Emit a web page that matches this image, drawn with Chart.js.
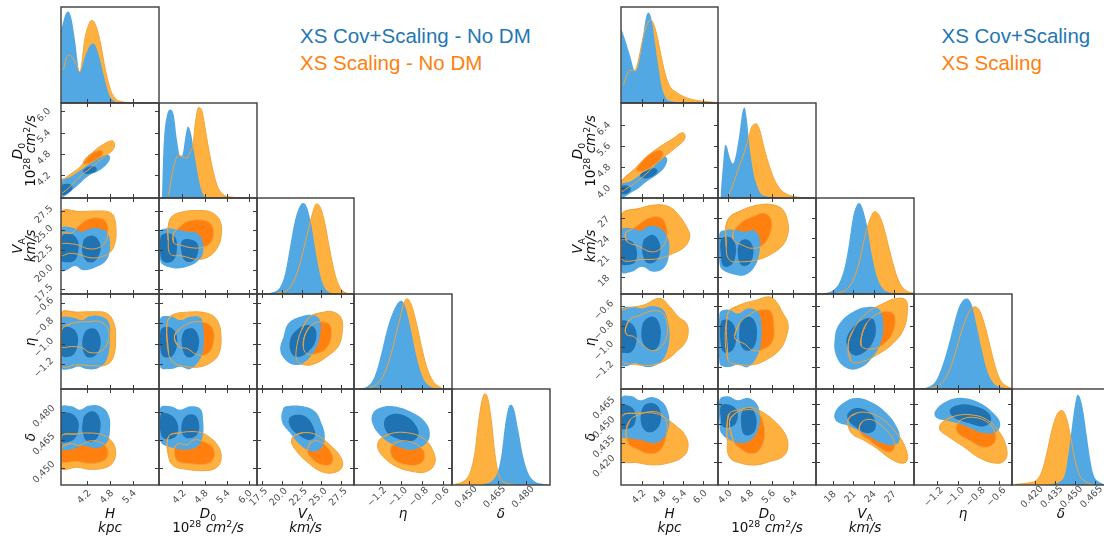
<!DOCTYPE html>
<html>
<head>
<meta charset="utf-8">
<script src="https://cdn.jsdelivr.net/npm/chart.js"></script>
<style>
  body { margin: 0; width: 1104px; height: 536px; overflow: hidden; background: #fff; position: relative; }
  canvas { position: absolute; }
  .lab { position: absolute; font: 13.5px "DejaVu Sans", sans-serif; color: #111; white-space: nowrap; text-align: center; line-height: 14px; }
  .lab sub, .lab sup { font-size: 70%; line-height: 0; position: relative; vertical-align: baseline; font-style: normal; }
  .lab sup { top: -0.5em; }
  .lab sub { bottom: -0.3em; }
  .legend { position: absolute; font: 20.5px "Liberation Sans", Arial, sans-serif; line-height: 27px; white-space: nowrap; }
</style>
</head>
<body>
<script>
// ---------- left triangle: axis limits and ticks ----------
const L_H_lim = [3.5, 6.1],      L_H_ticks = [4.2, 4.8, 5.4];
const L_D0_lim = [3.56, 6.23],   L_D0_ticks = [4.2, 4.8, 5.4, 6.0];
const L_VA_lim = [16.9, 29.1],   L_VA_ticks = [17.5, 20.0, 22.5, 25.0, 27.5];
const L_eta_lim = [-1.45, -0.51], L_eta_ticks = [-1.2, -1.0, -0.8, -0.6];
const L_delta_lim = [0.441, 0.4925], L_delta_ticks = [0.450, 0.465, 0.480];

// ---------- right triangle: axis limits and ticks ----------
const R_H_lim = [3.58, 6.43],    R_H_ticks = [4.2, 4.8, 5.4, 6.0];
const R_D0_lim = [3.62, 7.23],   R_D0_ticks = [4.0, 4.8, 5.6, 6.4];
const R_VA_lim = [15.4, 30.05],  R_VA_ticks = [18, 21, 24, 27];
const R_eta_lim = [-1.42, -0.48], R_eta_ticks = [-1.2, -1.0, -0.8, -0.6];
const R_delta_lim = [0.4025, 0.4767], R_delta_ticks = [0.420, 0.435, 0.450, 0.465];

// ---------- 1D marginals (x, normalised density) ----------
const L_H_blue = [[3.505,0.80],[3.61,0.96],[3.69,1.0],[3.78,0.92],[3.87,0.69],[4.0,0.34],[4.14,0.51],[4.27,0.63],[4.36,0.65],[4.49,0.54],[4.63,0.31],[4.76,0.11],[4.89,0.025],[5.07,0.004],[5.42,0]];
const L_H_orange = [[3.56,0.36],[3.69,0.525],[3.78,0.51],[3.91,0.42],[4.0,0.34],[4.14,0.72],[4.23,0.85],[4.31,0.905],[4.40,0.87],[4.53,0.69],[4.66,0.40],[4.80,0.16],[4.93,0.054],[5.07,0.018],[5.42,0.004],[6.04,0]];
const L_D0_blue = [[3.64,0],[3.68,0.53],[3.78,0.92],[3.87,0.976],[3.96,0.92],[4.05,0.64],[4.14,0.456],[4.21,0.49],[4.28,0.68],[4.35,0.79],[4.43,0.716],[4.55,0.42],[4.69,0.12],[4.82,0.01],[5.05,0]];
const L_D0_orange = [[3.82,0.03],[3.96,0.345],[4.09,0.475],[4.21,0.456],[4.32,0.44],[4.41,0.51],[4.49,0.60],[4.55,0.83],[4.64,1.0],[4.73,0.96],[4.87,0.64],[5.0,0.36],[5.14,0.14],[5.28,0.048],[5.51,0.011],[6.05,0]];
const L_VA_blue = [[17.74,0.004],[18.98,0.022],[19.82,0.077],[20.44,0.224],[21.06,0.517],[21.69,0.81],[22.31,0.964],[22.72,0.994],[23.22,0.94],[23.77,0.737],[24.39,0.407],[25.02,0.15],[25.64,0.04],[26.47,0.004]];
const L_VA_orange = [[19.4,0.011],[20.65,0.04],[21.48,0.13],[22.31,0.334],[23.14,0.627],[23.77,0.847],[24.39,0.986],[24.89,0.94],[25.43,0.774],[26.05,0.48],[26.68,0.224],[27.3,0.077],[28.13,0.011],[28.96,0]];
const L_eta_blue = [[-1.396,0.004],[-1.332,0.022],[-1.268,0.10],[-1.22,0.25],[-1.172,0.47],[-1.124,0.69],[-1.076,0.85],[-1.028,0.953],[-0.995,0.975],[-0.963,0.927],[-0.932,0.80],[-0.884,0.54],[-0.836,0.286],[-0.787,0.12],[-0.723,0.03],[-0.627,0.004]];
const L_eta_orange = [[-1.30,0.011],[-1.22,0.066],[-1.156,0.176],[-1.092,0.396],[-1.044,0.615],[-1.005,0.80],[-0.973,0.945],[-0.941,0.997],[-0.899,0.927],[-0.851,0.725],[-0.803,0.47],[-0.755,0.25],[-0.691,0.084],[-0.61,0.011]];
const L_delta_blue = [[0.4574,0.011],[0.4626,0.055],[0.4653,0.165],[0.4671,0.348],[0.4688,0.64],[0.4706,0.842],[0.472,0.878],[0.4737,0.823],[0.4758,0.604],[0.4784,0.311],[0.4811,0.128],[0.4846,0.037],[0.489,0.011],[0.4925,0.004]];
const L_delta_orange = [[0.4425,0.007],[0.4468,0.037],[0.4504,0.128],[0.453,0.348],[0.4547,0.64],[0.4565,0.896],[0.4583,0.999],[0.46,0.93],[0.4618,0.677],[0.4635,0.348],[0.4653,0.128],[0.4679,0.037],[0.4732,0.007]];

const R_H_blue = [[3.585,0.815],[3.705,0.69],[3.851,0.51],[3.997,0.344],[4.143,0.51],[4.24,0.76],[4.318,0.94],[4.386,0.99],[4.483,0.905],[4.58,0.65],[4.677,0.40],[4.774,0.18],[4.90,0.054],[5.066,0.018],[5.309,0.007],[5.892,0]];
const R_H_orange = [[3.657,0.20],[3.754,0.31],[3.851,0.355],[3.997,0.362],[4.094,0.47],[4.19,0.65],[4.288,0.80],[4.386,0.887],[4.454,0.91],[4.551,0.85],[4.648,0.72],[4.745,0.54],[4.872,0.326],[5.017,0.18],[5.212,0.116],[5.406,0.072],[5.698,0.036],[5.989,0.018],[6.33,0.007]];
const R_D0_blue = [[3.712,0.011],[3.798,0.345],[3.885,0.586],[3.946,0.568],[4.044,0.456],[4.167,0.382],[4.29,0.493],[4.413,0.716],[4.512,0.939],[4.598,1.0],[4.684,0.864],[4.782,0.568],[4.905,0.308],[5.028,0.16],[5.151,0.067],[5.397,0.019],[5.89,0.004]];
const R_D0_orange = [[3.983,0.011],[4.167,0.141],[4.352,0.308],[4.536,0.456],[4.721,0.642],[4.844,0.772],[4.93,0.81],[5.028,0.82],[5.151,0.753],[5.336,0.53],[5.52,0.345],[5.705,0.197],[5.951,0.085],[6.258,0.03],[6.627,0.007],[7.119,0]];
const R_VA_blue = [[16.45,0.004],[17.95,0.04],[18.95,0.132],[19.7,0.297],[20.35,0.554],[20.95,0.847],[21.45,0.964],[21.85,0.994],[22.35,0.939],[22.95,0.774],[23.7,0.444],[24.44,0.205],[25.19,0.077],[26.19,0.022],[27.44,0.004]];
const R_VA_orange = [[18.7,0.011],[19.95,0.048],[20.95,0.15],[21.95,0.37],[22.7,0.627],[23.44,0.81],[24.19,0.902],[24.94,0.847],[25.69,0.682],[26.44,0.462],[27.19,0.26],[27.94,0.114],[28.94,0.033],[29.94,0.011]];
const R_eta_blue = [[-1.363,0.004],[-1.267,0.03],[-1.203,0.103],[-1.139,0.286],[-1.075,0.543],[-1.027,0.764],[-0.979,0.93],[-0.915,1.0],[-0.866,0.93],[-0.818,0.69],[-0.77,0.433],[-0.722,0.213],[-0.658,0.066],[-0.578,0.018],[-0.498,0.004]];
const R_eta_orange = [[-1.267,0.007],[-1.171,0.048],[-1.107,0.14],[-1.043,0.323],[-0.979,0.58],[-0.915,0.80],[-0.866,0.892],[-0.834,0.91],[-0.786,0.855],[-0.738,0.69],[-0.69,0.47],[-0.642,0.25],[-0.594,0.103],[-0.53,0.03],[-0.482,0.007]];
const R_delta_blue = [[0.4314,0.007],[0.439,0.037],[0.4428,0.128],[0.4453,0.348],[0.4479,0.64],[0.4504,0.896],[0.4521,0.988],[0.4542,0.95],[0.4567,0.787],[0.4592,0.53],[0.4618,0.274],[0.4643,0.11],[0.4681,0.037],[0.4719,0.011]];
const R_delta_orange = [[0.4049,0.007],[0.4162,0.026],[0.4213,0.055],[0.4251,0.146],[0.4289,0.348],[0.4327,0.60],[0.4365,0.768],[0.4403,0.816],[0.4441,0.713],[0.4466,0.549],[0.4491,0.348],[0.4516,0.194],[0.4542,0.091],[0.458,0.037],[0.463,0.011]];

// ---------- 2D contours: b2/o2 = 95% region, b1/o1 = 68% region (list of closed rings) ----------
const L_H_D0_o2 = [[[3.51,3.99],[3.69,4.18],[3.96,4.39],[4.18,4.65],[4.40,4.9],[4.63,5.07],[4.85,5.17],[4.92,5.09],[4.88,4.92],[4.72,4.77],[4.54,4.63],[4.27,4.39],[4.0,4.16],[3.74,3.88],[3.56,3.72],[3.51,3.72]]];
const L_H_D0_o1 = [[[4.09,4.53],[4.2,4.72],[4.40,4.86],[4.58,4.89],[4.61,4.80],[4.45,4.65],[4.23,4.52]]];
const L_H_D0_b2 = [[[3.51,4.07],[3.69,4.12],[3.92,4.27],[4.14,4.44],[4.36,4.61],[4.58,4.72],[4.76,4.77],[4.80,4.67],[4.70,4.49],[4.49,4.32],[4.27,4.21],[4.05,4.02],[3.83,3.81],[3.65,3.65],[3.51,3.57]]];
const L_H_D0_b1 = [[[3.51,3.90],[3.65,3.96],[3.78,3.92],[3.80,3.81],[3.69,3.70],[3.54,3.65]], [[4.09,4.33],[4.23,4.44],[4.40,4.44],[4.45,4.35],[4.32,4.26],[4.14,4.24]]];

const L_H_VA_o2 = [[[3.51,27.3],[4.0,27.37],[4.54,27.45],[4.78,27.3],[4.9,26.8],[4.96,25.0],[4.92,23.2],[4.78,22.1],[4.54,21.6],[4.27,21.5],[4.0,21.9],[3.74,22.07],[3.51,21.9]]];
const L_H_VA_o1 = [[[3.51,24.62],[3.78,24.62],[4.0,25.67],[4.23,26.4],[4.54,26.52],[4.71,25.97],[4.74,24.62],[4.67,23.42],[4.45,22.7],[4.18,22.7],[3.96,23.13],[3.65,23.34],[3.51,23.42]]];
const L_H_VA_b2 = [[[3.51,25.2],[3.83,25.3],[4.05,24.85],[4.27,25.2],[4.54,25.2],[4.74,24.62],[4.80,22.91],[4.71,21.21],[4.45,20.36],[4.09,19.93],[3.87,20.45],[3.65,19.93],[3.51,19.93]]];
const L_H_VA_b1 = [[[3.51,24.1],[3.74,24.6],[3.94,23.76],[3.96,22.49],[3.87,21.2],[3.65,20.95],[3.51,21.2]], [[4.14,24.0],[4.36,24.3],[4.52,23.5],[4.54,22.3],[4.40,21.1],[4.2,21.0],[4.07,22.07],[4.08,23.3]]];

const L_D0_VA_o2 = [[[3.81,25.46],[3.91,26.74],[4.20,27.33],[4.64,27.5],[5.0,27.25],[5.23,26.1],[5.25,24.18],[5.14,22.7],[4.91,21.64],[4.60,21.3],[4.19,21.73],[3.87,21.97],[3.81,23.76]]];
const L_D0_VA_o1 = [[[3.96,24.62],[4.14,25.46],[4.32,26.1],[4.73,26.31],[4.97,25.8],[5.05,24.62],[4.96,23.34],[4.73,22.8],[4.41,22.8],[4.14,23.13],[3.96,23.4]]];
const L_D0_VA_b2 = [[[3.59,24.83],[3.78,25.25],[4.05,25.1],[4.32,24.83],[4.60,24.62],[4.73,23.76],[4.76,22.07],[4.60,21.0],[4.32,20.36],[4.01,20.15],[3.68,20.57],[3.59,21.21]]];
const L_D0_VA_b1 = [[[3.61,24.2],[3.81,24.62],[4.0,24.1],[4.05,22.7],[3.96,21.21],[3.73,20.9],[3.61,21.64]], [[4.19,23.66],[4.41,23.84],[4.60,23.34],[4.62,22.07],[4.49,21.1],[4.28,21.1],[4.17,22.28]]];

const L_H_eta_o2 = [[[3.51,-0.70],[3.92,-0.69],[4.36,-0.686],[4.71,-0.70],[4.89,-0.785],[4.95,-0.93],[4.89,-1.13],[4.71,-1.21],[4.36,-1.22],[3.92,-1.21],[3.51,-1.22]]];
const L_H_eta_o1 = [[[3.51,-0.867],[3.78,-0.80],[4.18,-0.785],[4.54,-0.785],[4.74,-0.85],[4.76,-0.964],[4.58,-1.07],[4.27,-1.09],[4.05,-1.04],[3.78,-1.03],[3.51,-1.03]]];
const L_H_eta_b2 = [[[3.51,-0.755],[3.83,-0.745],[4.05,-0.768],[4.27,-0.73],[4.54,-0.73],[4.76,-0.785],[4.80,-0.947],[4.71,-1.16],[4.49,-1.243],[4.18,-1.253],[3.96,-1.227],[3.74,-1.253],[3.51,-1.243]]];
const L_H_eta_b1 = [[[3.51,-0.85],[3.74,-0.84],[3.92,-0.90],[3.94,-1.013],[3.83,-1.112],[3.61,-1.135],[3.51,-1.112]], [[4.14,-0.883],[4.36,-0.85],[4.52,-0.915],[4.54,-1.03],[4.40,-1.12],[4.18,-1.13],[4.07,-1.03]]];

const L_D0_eta_o2 = [[[3.78,-0.80],[3.91,-0.72],[4.32,-0.69],[4.87,-0.70],[5.14,-0.768],[5.25,-0.93],[5.18,-1.11],[4.96,-1.19],[4.69,-1.23],[4.32,-1.23],[3.96,-1.19],[3.82,-1.10]]];
const L_D0_eta_o1 = [[[3.98,-0.93],[4.14,-0.85],[4.46,-0.79],[4.79,-0.79],[5.02,-0.85],[5.05,-0.98],[4.89,-1.10],[4.60,-1.11],[4.33,-1.05],[4.09,-1.03]]];
const L_D0_eta_b2 = [[[3.59,-0.755],[3.87,-0.73],[4.14,-0.768],[4.41,-0.735],[4.69,-0.745],[4.76,-0.834],[4.78,-0.998],[4.69,-1.145],[4.41,-1.253],[4.14,-1.23],[3.87,-1.253],[3.59,-1.23]]];
const L_D0_eta_b1 = [[[3.61,-0.866],[3.81,-0.834],[4.01,-0.89],[4.05,-1.013],[3.93,-1.12],[3.71,-1.135],[3.61,-1.08]], [[4.23,-0.883],[4.46,-0.85],[4.62,-0.915],[4.64,-1.03],[4.51,-1.12],[4.31,-1.13],[4.19,-1.03]]];

const L_VA_eta_o2 = [[[23.56,-0.735],[25.0,-0.695],[26.4,-0.686],[27.5,-0.75],[27.6,-0.90],[27.1,-1.03],[25.84,-1.12],[24.18,-1.20],[22.72,-1.21],[21.9,-1.16],[21.9,-1.03],[22.5,-0.866]]];
const L_VA_eta_o1 = [[[22.93,-0.915],[23.76,-0.815],[25.0,-0.785],[26.05,-0.815],[26.25,-0.93],[25.63,-1.046],[24.39,-1.10],[23.14,-1.10],[22.72,-1.03]]];
const L_VA_eta_b2 = [[[20.24,-0.93],[20.86,-0.80],[22.31,-0.735],[23.97,-0.718],[24.8,-0.768],[24.8,-0.93],[24.18,-1.063],[22.72,-1.194],[21.48,-1.21],[20.44,-1.16],[19.82,-1.063]]];
const L_VA_eta_b1 = [[[21.06,-0.964],[21.9,-0.866],[23.14,-0.817],[24.18,-0.85],[24.3,-0.964],[23.56,-1.063],[22.31,-1.13],[21.27,-1.10]]];

const L_H_delta_o2 = [[[3.51,0.467],[3.92,0.4684],[4.27,0.4689],[4.63,0.4677],[4.85,0.4643],[4.95,0.459],[4.89,0.4536],[4.71,0.4505],[4.27,0.4494],[3.92,0.4505],[3.51,0.45]]];
const L_H_delta_o1 = [[[3.51,0.4608],[3.74,0.4632],[4.0,0.4623],[4.27,0.4647],[4.58,0.4635],[4.74,0.4599],[4.71,0.4554],[4.49,0.4530],[4.18,0.4527],[3.92,0.4536],[3.51,0.4536]]];
const L_H_delta_b2 = [[[3.51,0.4828],[3.78,0.4832],[4.0,0.4814],[4.23,0.4835],[4.54,0.4832],[4.76,0.4787],[4.80,0.4706],[4.71,0.4635],[4.45,0.4608],[4.09,0.462],[3.78,0.4601],[3.51,0.4608]]];
const L_H_delta_b1 = [[[3.51,0.479],[3.74,0.4796],[3.94,0.476],[3.96,0.4706],[3.85,0.4656],[3.61,0.4638],[3.51,0.4643]], [[4.14,0.4787],[4.36,0.4805],[4.52,0.4769],[4.54,0.4706],[4.43,0.4656],[4.2,0.4643],[4.07,0.4697],[4.08,0.4751]]];

const L_D0_delta_o2 = [[[3.82,0.467],[4.14,0.4691],[4.64,0.4694],[4.91,0.467],[5.18,0.4616],[5.25,0.4545],[5.10,0.45],[4.78,0.4487],[4.32,0.4494],[3.96,0.4512],[3.82,0.4563]]];
const L_D0_delta_o1 = [[[4.0,0.4616],[4.09,0.4632],[4.32,0.4626],[4.51,0.4652],[4.78,0.4643],[5.04,0.4608],[5.05,0.4554],[4.87,0.4523],[4.46,0.4523],[4.09,0.4536],[3.98,0.4572]]];
const L_D0_delta_b2 = [[[3.59,0.4823],[3.87,0.4832],[4.14,0.4814],[4.41,0.4832],[4.69,0.4818],[4.76,0.476],[4.75,0.467],[4.60,0.4616],[4.28,0.4599],[3.96,0.4608],[3.68,0.4626],[3.59,0.4652]]];
const L_D0_delta_b1 = [[[3.61,0.479],[3.87,0.4787],[4.06,0.4742],[4.05,0.4679],[3.87,0.4656],[3.64,0.467]], [[4.28,0.4778],[4.51,0.4787],[4.64,0.4751],[4.62,0.4688],[4.41,0.4661],[4.23,0.4673],[4.17,0.4724]]];

const L_VA_delta_o2 = [[[21.48,0.467],[22.72,0.4691],[24.39,0.4679],[26.05,0.4626],[27.38,0.4563],[27.63,0.4509],[26.67,0.4477],[25.0,0.4482],[23.14,0.4536],[21.9,0.459],[21.27,0.4635]]];
const L_VA_delta_o1 = [[[23.35,0.4616],[23.76,0.4643],[24.8,0.4643],[25.84,0.4608],[26.46,0.4554],[26.05,0.4518],[24.8,0.4522],[23.76,0.4554],[23.22,0.459]]];
const L_VA_delta_b2 = [[[20.24,0.4823],[21.06,0.4835],[22.72,0.4832],[24.18,0.4805],[25.0,0.4742],[25.43,0.467],[25.0,0.4608],[23.76,0.459],[22.31,0.4626],[21.06,0.4689],[20.03,0.4751]]];
const L_VA_delta_b1 = [[[20.98,0.4769],[21.9,0.4787],[23.14,0.4774],[23.97,0.4724],[24.18,0.467],[23.35,0.4652],[22.1,0.4679],[21.06,0.4724]]];

const L_eta_delta_o2 = [[[-1.204,0.4652],[-1.108,0.4684],[-0.947,0.4691],[-0.787,0.4661],[-0.697,0.4599],[-0.675,0.4527],[-0.755,0.4482],[-0.883,0.4482],[-1.044,0.4509],[-1.172,0.4563],[-1.22,0.4608]]];
const L_eta_delta_o1 = [[[-1.092,0.4616],[-1.028,0.4643],[-0.915,0.4643],[-0.803,0.4608],[-0.771,0.4563],[-0.819,0.4523],[-0.947,0.4518],[-1.06,0.4545],[-1.10,0.4584]]];
const L_eta_delta_b2 = [[[-1.268,0.4796],[-1.204,0.4823],[-1.076,0.4832],[-0.915,0.4805],[-0.771,0.4751],[-0.723,0.4689],[-0.755,0.4635],[-0.883,0.4599],[-1.044,0.4619],[-1.188,0.467],[-1.275,0.4742]]];
const L_eta_delta_b1 = [[[-1.156,0.476],[-1.076,0.4791],[-0.947,0.4778],[-0.851,0.4724],[-0.835,0.4673],[-0.915,0.4643],[-1.044,0.4661],[-1.14,0.4697]]];

const R_H_D0_o2 = [[[3.59,4.24],[3.95,4.684],[4.337,5.187],[4.72,5.565],[5.11,5.88],[5.36,6.095],[5.455,6.04],[5.43,5.816],[5.212,5.565],[4.92,5.25],[4.629,4.936],[4.337,4.558],[4.046,4.244],[3.754,3.99],[3.59,3.87]]];
const R_H_D0_o1 = [[[4.027,4.684],[4.19,5.0],[4.434,5.29],[4.72,5.44],[4.82,5.313],[4.72,5.062],[4.483,4.81],[4.19,4.62]]];
const R_H_D0_b2 = [[[3.59,4.118],[3.85,4.244],[4.14,4.495],[4.434,4.747],[4.72,5.062],[4.87,5.21],[4.94,5.062],[4.84,4.747],[4.629,4.495],[4.337,4.244],[4.094,3.99],[3.85,3.804],[3.66,3.65],[3.59,3.678]]];
const R_H_D0_b1 = [[[3.59,4.055],[3.80,4.08],[3.87,3.929],[3.754,3.78],[3.59,3.804]], [[4.14,4.495],[4.356,4.684],[4.58,4.747],[4.65,4.62],[4.483,4.432],[4.24,4.37]]];

const R_H_VA_o2 = [[[3.59,27.47],[4.143,28.49],[4.629,29.01],[5.017,28.65],[5.309,27.22],[5.552,25.18],[5.60,24.15],[5.455,22.62],[5.114,21.6],[4.726,20.83],[4.24,20.68],[3.59,20.83]]];
const R_H_VA_o1 = [[[3.71,24.67],[3.90,25.28],[4.12,26.1],[4.386,26.96],[4.726,27.12],[4.90,25.94],[4.92,23.9],[4.726,22.21],[4.434,21.86],[4.094,22.72],[3.754,23.39]]];
const R_H_VA_b2 = [[[3.59,25.18],[3.90,25.43],[4.14,25.07],[4.434,25.79],[4.726,25.43],[4.94,24.15],[5.0,22.11],[4.87,19.56],[4.53,18.79],[4.19,19.56],[3.90,18.79],[3.59,18.79]]];
const R_H_VA_b1 = [[[3.59,23.38],[3.85,23.54],[4.03,22.37],[4.0,20.32],[3.754,19.81],[3.59,20.07]], [[4.29,23.9],[4.53,24.41],[4.70,23.38],[4.726,21.6],[4.58,20.32],[4.337,20.17],[4.21,21.6],[4.22,23.13]]];

const R_D0_VA_o2 = [[[3.983,26.71],[4.536,28.24],[5.151,29.01],[5.643,29.01],[6.012,28.24],[6.196,26.2],[6.196,24.67],[6.012,22.88],[5.52,21.35],[5.028,20.58],[4.475,20.32],[4.044,20.58],[3.921,22.62]]];
const R_D0_VA_o1 = [[[4.192,24.92],[4.475,26.3],[4.905,27.22],[5.336,27.73],[5.582,26.71],[5.545,24.67],[5.274,22.88],[4.88,22.37],[4.51,22.88],[4.192,23.64]]];
const R_D0_VA_b2 = [[[3.675,24.67],[3.921,25.18],[4.29,25.18],[4.598,24.92],[4.967,25.07],[5.151,23.9],[5.151,21.86],[4.967,19.56],[4.598,18.28],[4.167,18.43],[3.798,19.05],[3.675,20.07]]];
const R_D0_VA_b1 = [[[3.737,23.75],[3.983,24.15],[4.229,23.38],[4.27,21.35],[4.106,19.81],[3.823,19.66],[3.737,21.09]], [[4.413,23.23],[4.66,23.75],[4.88,22.88],[4.905,21.09],[4.721,19.81],[4.475,19.81],[4.352,21.35]]];

const R_H_eta_o2 = [[[3.59,-0.655],[3.754,-0.623],[4.24,-0.59],[4.726,-0.524],[5.017,-0.607],[5.26,-0.705],[5.503,-0.77],[5.552,-0.869],[5.455,-0.967],[5.212,-1.049],[4.92,-1.131],[4.531,-1.18],[4.046,-1.18],[3.59,-1.131]]];
const R_H_eta_o1 = [[[3.705,-0.836],[3.83,-0.734],[4.143,-0.69],[4.454,-0.65],[4.745,-0.655],[4.90,-0.72],[4.94,-0.869],[4.774,-1.0],[4.483,-1.04],[4.19,-0.973],[3.948,-0.90],[3.754,-0.885]]];
const R_H_eta_b2 = [[[3.59,-0.639],[3.90,-0.607],[4.19,-0.623],[4.531,-0.6],[4.823,-0.639],[4.968,-0.77],[5.0,-0.934],[4.87,-1.098],[4.629,-1.18],[4.337,-1.203],[3.997,-1.164],[3.754,-1.196],[3.59,-1.18]]];
const R_H_eta_b1 = [[[3.59,-0.754],[3.80,-0.754],[3.997,-0.82],[4.03,-0.951],[3.90,-1.049],[3.705,-1.065],[3.59,-1.049]], [[4.29,-0.738],[4.531,-0.705],[4.70,-0.77],[4.745,-0.90],[4.629,-1.016],[4.386,-1.032],[4.21,-0.951],[4.19,-0.82]]];

const R_D0_eta_o2 = [[[3.983,-0.672],[4.413,-0.59],[5.028,-0.541],[5.52,-0.508],[5.766,-0.557],[6.012,-0.672],[6.196,-0.77],[6.135,-0.902],[5.89,-1.032],[5.397,-1.131],[4.905,-1.18],[4.413,-1.18],[3.983,-1.131]]];
const R_D0_eta_o1 = [[[4.229,-0.902],[4.413,-0.77],[4.844,-0.672],[5.274,-0.633],[5.582,-0.655],[5.68,-0.803],[5.643,-0.94],[5.336,-1.022],[4.905,-1.039],[4.598,-0.973],[4.315,-0.94]]];
const R_D0_eta_b2 = [[[3.675,-0.672],[3.983,-0.633],[4.352,-0.672],[4.721,-0.623],[5.09,-0.655],[5.213,-0.77],[5.213,-0.934],[5.09,-1.082],[4.721,-1.203],[4.352,-1.18],[3.983,-1.203],[3.675,-1.164]]];
const R_D0_eta_b1 = [[[3.737,-0.754],[4.019,-0.738],[4.25,-0.82],[4.29,-0.934],[4.143,-1.039],[3.86,-1.058],[3.737,-1.0]], [[4.51,-0.738],[4.782,-0.705],[5.0,-0.764],[5.05,-0.902],[4.905,-1.016],[4.635,-1.039],[4.438,-0.967],[4.413,-0.82]]];

const R_VA_eta_o2 = [[[20.2,-0.984],[20.95,-0.836],[22.95,-0.672],[25.44,-0.574],[27.44,-0.524],[28.84,-0.541],[29.04,-0.672],[28.44,-0.836],[26.94,-0.967],[24.94,-1.065],[22.45,-1.147],[20.7,-1.147]]];
const R_VA_eta_o1 = [[[22.2,-0.902],[22.95,-0.77],[24.69,-0.672],[26.44,-0.655],[27.19,-0.705],[26.94,-0.852],[25.69,-0.967],[23.94,-1.022],[22.2,-1.0]]];
const R_VA_eta_b2 = [[[18.2,-0.918],[18.95,-0.77],[20.95,-0.655],[23.45,-0.607],[24.94,-0.639],[25.44,-0.77],[25.19,-0.934],[23.94,-1.098],[21.95,-1.213],[19.95,-1.213],[18.45,-1.098]]];
const R_VA_eta_b1 = [[[19.95,-0.967],[20.45,-0.852],[21.95,-0.754],[23.69,-0.72],[24.34,-0.803],[23.94,-0.951],[22.45,-1.065],[20.95,-1.082]]];

const R_H_delta_o2 = [[[3.59,0.455],[4.143,0.4581],[4.629,0.4576],[4.92,0.4535],[5.212,0.4478],[5.455,0.4413],[5.552,0.4323],[5.406,0.4245],[5.017,0.4198],[4.531,0.418],[4.046,0.4198],[3.59,0.4219]]];
const R_H_delta_o1 = [[[3.73,0.4439],[3.85,0.453],[4.19,0.4576],[4.483,0.4592],[4.745,0.4576],[4.92,0.4509],[4.90,0.4387],[4.726,0.4292],[4.415,0.4266],[4.094,0.4297],[3.80,0.4343]]];
const R_H_delta_b2 = [[[3.59,0.4698],[3.90,0.4711],[4.143,0.468],[4.483,0.4706],[4.774,0.4672],[4.94,0.4607],[5.0,0.4504],[4.87,0.44],[4.58,0.4349],[4.143,0.4374],[3.80,0.4387],[3.59,0.44]]];
const R_H_delta_b1 = [[[3.59,0.4638],[3.85,0.4633],[3.997,0.4581],[3.97,0.4491],[3.754,0.4457],[3.59,0.4465]], [[4.24,0.4633],[4.483,0.4659],[4.70,0.462],[4.745,0.4517],[4.58,0.4447],[4.32,0.4439],[4.16,0.4517]]];

const R_D0_delta_o2 = [[[3.958,0.4504],[4.044,0.4581],[4.413,0.4607],[4.844,0.4623],[5.213,0.4594],[5.643,0.453],[6.074,0.4426],[6.196,0.4323],[6.012,0.4245],[5.52,0.4206],[5.028,0.418],[4.475,0.4193],[4.044,0.424],[3.958,0.4374]]];
const R_D0_delta_o1 = [[[4.044,0.4517],[4.266,0.4581],[4.684,0.4607],[5.053,0.4592],[5.274,0.4517],[5.336,0.44],[5.151,0.4297],[4.844,0.4266],[4.475,0.4302],[4.192,0.4361]]];
const R_D0_delta_b2 = [[[3.675,0.4685],[3.983,0.4711],[4.352,0.468],[4.721,0.4698],[5.028,0.4659],[5.151,0.4581],[5.13,0.4478],[4.844,0.4374],[4.475,0.4349],[4.044,0.4374],[3.737,0.4426],[3.675,0.4504]]];
const R_D0_delta_b1 = [[[3.737,0.4638],[4.044,0.4646],[4.315,0.4602],[4.315,0.4517],[4.106,0.4473],[3.798,0.4478],[3.725,0.4543]], [[4.536,0.4602],[4.807,0.462],[5.0,0.4568],[5.028,0.4478],[4.88,0.4421],[4.598,0.4413],[4.475,0.4491]]];

const R_VA_delta_o2 = [[[20.2,0.453],[21.45,0.4581],[23.45,0.4581],[25.44,0.453],[27.44,0.4426],[28.69,0.4323],[29.04,0.4219],[28.19,0.4193],[26.44,0.4232],[24.44,0.431],[22.45,0.4374],[20.7,0.4426]]];
const R_VA_delta_o1 = [[[21.85,0.4465],[22.35,0.4517],[23.7,0.453],[25.19,0.4483],[26.69,0.44],[27.19,0.4323],[26.44,0.4279],[24.94,0.431],[23.45,0.4369],[22.2,0.4413]]];
const R_VA_delta_b2 = [[[18.2,0.4581],[19.45,0.4659],[21.45,0.4698],[23.94,0.4659],[25.94,0.4581],[27.44,0.4478],[27.94,0.4387],[27.19,0.4336],[25.19,0.4349],[22.95,0.4413],[20.45,0.4478],[18.45,0.4517]]];
const R_VA_delta_b1 = [[[20.2,0.4581],[21.45,0.462],[23.2,0.4594],[24.19,0.453],[24.19,0.4452],[22.95,0.4426],[21.2,0.4478],[20.2,0.453]]];

const R_eta_delta_o2 = [[[-1.155,0.4504],[-1.043,0.4555],[-0.882,0.4568],[-0.722,0.453],[-0.594,0.4426],[-0.53,0.4297],[-0.546,0.4219],[-0.626,0.4193],[-0.786,0.4232],[-0.947,0.4323],[-1.091,0.44],[-1.171,0.4452]]];
const R_eta_delta_o1 = [[[-1.017,0.4465],[-0.979,0.4524],[-0.85,0.4548],[-0.706,0.4504],[-0.636,0.4413],[-0.658,0.4343],[-0.754,0.4317],[-0.899,0.4374],[-0.995,0.4421]]];
const R_eta_delta_b2 = [[[-1.219,0.4594],[-1.107,0.4672],[-0.947,0.4698],[-0.786,0.4659],[-0.658,0.4581],[-0.594,0.4504],[-0.626,0.4439],[-0.754,0.4426],[-0.915,0.4478],[-1.075,0.4517],[-1.203,0.4543]]];
const R_eta_delta_b1 = [[[-1.075,0.4607],[-0.979,0.4646],[-0.834,0.4633],[-0.706,0.4581],[-0.684,0.4517],[-0.754,0.4478],[-0.899,0.4504],[-1.043,0.4551]]];

// ---------- styling / layout ----------
const BLUE_LIGHT = '#52a8e2', BLUE_DARK = '#1f73b2';
const ORANGE_LIGHT = '#ffb13f', ORANGE_DARK = '#ff800e', ORANGE_LINE = '#f2a33a';
const ROWS = [7, 103, 198, 294, 389, 485];
const PAD = { l: 60, t: 3, r: 3, b: 42 };
const TICK = 4;

const LABELS = [
  '<i>H</i><br><i>kpc</i>',
  '<i>D</i><sub>0</sub><br>10<sup>28</sup> <i>cm</i><sup>2</sup><i>/s</i>',
  '<i>V</i><sub>A</sub><br><i>km/s</i>',
  '<i>η</i>',
  '<i>δ</i>'
];

const LEFT = {
  cols: [61, 159, 257, 354, 452, 550],
  lim: [L_H_lim, L_D0_lim, L_VA_lim, L_eta_lim, L_delta_lim],
  ticks: [L_H_ticks, L_D0_ticks, L_VA_ticks, L_eta_ticks, L_delta_ticks],
  dec: [1, 1, 1, 1, 3],
  blue: [L_H_blue, L_D0_blue, L_VA_blue, L_eta_blue, L_delta_blue],
  orange: [L_H_orange, L_D0_orange, L_VA_orange, L_eta_orange, L_delta_orange],
  pairs: {
    '0-1': [L_H_D0_o2, L_H_D0_o1, L_H_D0_b2, L_H_D0_b1],
    '0-2': [L_H_VA_o2, L_H_VA_o1, L_H_VA_b2, L_H_VA_b1],
    '1-2': [L_D0_VA_o2, L_D0_VA_o1, L_D0_VA_b2, L_D0_VA_b1],
    '0-3': [L_H_eta_o2, L_H_eta_o1, L_H_eta_b2, L_H_eta_b1],
    '1-3': [L_D0_eta_o2, L_D0_eta_o1, L_D0_eta_b2, L_D0_eta_b1],
    '2-3': [L_VA_eta_o2, L_VA_eta_o1, L_VA_eta_b2, L_VA_eta_b1],
    '0-4': [L_H_delta_o2, L_H_delta_o1, L_H_delta_b2, L_H_delta_b1],
    '1-4': [L_D0_delta_o2, L_D0_delta_o1, L_D0_delta_b2, L_D0_delta_b1],
    '2-4': [L_VA_delta_o2, L_VA_delta_o1, L_VA_delta_b2, L_VA_delta_b1],
    '3-4': [L_eta_delta_o2, L_eta_delta_o1, L_eta_delta_b2, L_eta_delta_b1]
  }
};
const RIGHT = {
  cols: [621, 718, 816, 914, 1012, 1110],
  lim: [R_H_lim, R_D0_lim, R_VA_lim, R_eta_lim, R_delta_lim],
  ticks: [R_H_ticks, R_D0_ticks, R_VA_ticks, R_eta_ticks, R_delta_ticks],
  dec: [1, 1, 0, 1, 3],
  blue: [R_H_blue, R_D0_blue, R_VA_blue, R_eta_blue, R_delta_blue],
  orange: [R_H_orange, R_D0_orange, R_VA_orange, R_eta_orange, R_delta_orange],
  pairs: {
    '0-1': [R_H_D0_o2, R_H_D0_o1, R_H_D0_b2, R_H_D0_b1],
    '0-2': [R_H_VA_o2, R_H_VA_o1, R_H_VA_b2, R_H_VA_b1],
    '1-2': [R_D0_VA_o2, R_D0_VA_o1, R_D0_VA_b2, R_D0_VA_b1],
    '0-3': [R_H_eta_o2, R_H_eta_o1, R_H_eta_b2, R_H_eta_b1],
    '1-3': [R_D0_eta_o2, R_D0_eta_o1, R_D0_eta_b2, R_D0_eta_b1],
    '2-3': [R_VA_eta_o2, R_VA_eta_o1, R_VA_eta_b2, R_VA_eta_b1],
    '0-4': [R_H_delta_o2, R_H_delta_o1, R_H_delta_b2, R_H_delta_b1],
    '1-4': [R_D0_delta_o2, R_D0_delta_o1, R_D0_delta_b2, R_D0_delta_b1],
    '2-4': [R_VA_delta_o2, R_VA_delta_o1, R_VA_delta_b2, R_VA_delta_b1],
    '3-4': [R_eta_delta_o2, R_eta_delta_o1, R_eta_delta_b2, R_eta_delta_b1]
  }
};

const fmt = (v, d) => v.toFixed(d).replace('-', '\u2212');

// frame, inward ticks on every side, rotated tick labels on the outer panels
const framePlugin = {
  id: 'frame',
  afterDraw(chart, args, o) {
    const { ctx, chartArea: a, scales: { x, y } } = chart;
    ctx.save();
    ctx.strokeStyle = '#3c3c3c';
    ctx.lineWidth = 1;
    ctx.beginPath();
    for (const v of o.xTicks) {
      const px = Math.round(x.getPixelForValue(v)) + 0.5;
      ctx.moveTo(px, a.bottom); ctx.lineTo(px, a.bottom - TICK);
      if (!o.diag) { ctx.moveTo(px, a.top); ctx.lineTo(px, a.top + TICK); }
    }
    if (!o.diag) {
      for (const v of o.yTicks) {
        const py = Math.round(y.getPixelForValue(v)) + 0.5;
        ctx.moveTo(a.left, py); ctx.lineTo(a.left + TICK, py);
        ctx.moveTo(a.right, py); ctx.lineTo(a.right - TICK, py);
      }
    }
    ctx.stroke();
    ctx.lineWidth = 1.4;
    ctx.strokeRect(a.left, a.top, a.right - a.left, a.bottom - a.top);

    ctx.fillStyle = '#505050';
    ctx.font = '9.5px "DejaVu Sans", sans-serif';
    ctx.textAlign = 'center';
    ctx.textBaseline = 'middle';
    if (o.xLabels) {
      for (const v of o.xTicks) {
        ctx.save();
        ctx.translate(x.getPixelForValue(v) - 3, a.bottom + 12);
        ctx.rotate(-Math.PI / 4);
        ctx.fillText(fmt(v, o.xDec), 0, 0);
        ctx.restore();
      }
    }
    if (o.yLabels) {
      for (const v of o.yTicks) {
        ctx.save();
        ctx.translate(a.left - 17, y.getPixelForValue(v) + 4);
        ctx.rotate(-Math.PI / 4);
        ctx.fillText(fmt(v, o.yDec), 0, 0);
        ctx.restore();
      }
    }
    ctx.restore();
  }
};

// close a ring so the spline runs smoothly through the joint
function closeRing(pts) {
  const p = pts.map(([x, y]) => ({ x, y }));
  return [p[p.length - 1], ...p, p[0], p[1]];
}

function contourSets(rings, color, asLine) {
  return rings.map(r => ({
    data: closeRing(r),
    fill: asLine ? false : 'shape',
    backgroundColor: color,
    borderColor: asLine ? color : 'transparent',
    borderWidth: asLine ? 1 : 0,
    pointRadius: 0,
    tension: 0.4
  }));
}

function curveSet(pts, color, asLine) {
  return {
    data: pts.map(([x, y]) => ({ x, y })),
    fill: asLine ? false : 'origin',
    backgroundColor: color,
    borderColor: asLine ? color : 'transparent',
    borderWidth: asLine ? 1 : 0,
    pointRadius: 0,
    cubicInterpolationMode: 'monotone'
  };
}

function addLabel(html, css) {
  const d = document.createElement('div');
  d.className = 'lab';
  d.innerHTML = html;
  d.style.cssText = css;
  document.body.appendChild(d);
}

function buildTriangle(T) {
  for (let r = 0; r < 5; r++) {
    for (let c = 0; c <= r; c++) {
      const x0 = T.cols[c], x1 = T.cols[c + 1], y0 = ROWS[r], y1 = ROWS[r + 1];
      const W = x1 - x0 + PAD.l + PAD.r, H = y1 - y0 + PAD.t + PAD.b;
      const cv = document.createElement('canvas');
      cv.width = W; cv.height = H;
      cv.style.left = (x0 - PAD.l) + 'px';
      cv.style.top = (y0 - PAD.t) + 'px';
      cv.style.width = W + 'px';
      cv.style.height = H + 'px';
      document.body.appendChild(cv);

      const diag = r === c;
      let layers, ylim;
      if (diag) {
        layers = [
          curveSet(T.orange[c], ORANGE_LIGHT, false),
          curveSet(T.blue[c], BLUE_LIGHT, false),
          curveSet(T.orange[c], ORANGE_LINE, true)
        ];
        ylim = [0, 1.05];
      } else {
        const [o2, o1, b2, b1] = T.pairs[c + '-' + r];
        layers = [
          ...contourSets(o2, ORANGE_LIGHT, false),
          ...contourSets(o1, ORANGE_DARK, false),
          ...contourSets(b2, BLUE_LIGHT, false),
          ...contourSets(b1, BLUE_DARK, false),
          ...contourSets(o2, ORANGE_LINE, true),
          ...contourSets(o1, ORANGE_LINE, true)
        ];
        ylim = T.lim[r];
      }
      // first pushed is drawn at the bottom
      layers.forEach((d, i) => { d.order = -i; });

      new Chart(cv, {
        type: 'line',
        data: { datasets: layers },
        options: {
          responsive: false,
          animation: false,
          devicePixelRatio: 1,
          events: [],
          layout: { padding: { left: PAD.l, top: PAD.t, right: PAD.r, bottom: PAD.b } },
          scales: {
            x: { type: 'linear', min: T.lim[c][0], max: T.lim[c][1], display: false },
            y: { type: 'linear', min: ylim[0], max: ylim[1], display: false }
          },
          plugins: {
            legend: { display: false },
            tooltip: { enabled: false },
            frame: {
              diag,
              xTicks: T.ticks[c],
              yTicks: diag ? [] : T.ticks[r],
              xDec: T.dec[c],
              yDec: T.dec[r],
              xLabels: r === 4,
              yLabels: c === 0 && !diag
            }
          }
        },
        plugins: [framePlugin]
      });
    }
  }

  // axis titles
  for (let i = 0; i < 5; i++) {
    const cx = (T.cols[i] + T.cols[i + 1]) / 2;
    addLabel(LABELS[i], `left:${cx}px;top:506px;transform:translateX(-50%);`);
  }
  for (let i = 1; i < 5; i++) {
    const cy = (ROWS[i] + ROWS[i + 1]) / 2;
    const twoLine = LABELS[i].includes('<br>');
    const cx = T.cols[0] - (twoLine ? 38 : 31);
    addLabel(LABELS[i], `left:${cx}px;top:${cy}px;line-height:12.5px;transform:translate(-50%,-50%) rotate(-90deg);`);
  }
}

buildTriangle(LEFT);
buildTriangle(RIGHT);

function addLegend(x, lines) {
  const d = document.createElement('div');
  d.className = 'legend';
  d.style.left = x + 'px';
  d.style.top = '22px';
  d.innerHTML = lines.map(([t, col]) => `<div style="color:${col}">${t}</div>`).join('');
  document.body.appendChild(d);
}
addLegend(300, [['XS Cov+Scaling - No DM', '#1f77b4'], ['XS Scaling - No DM', '#ff7f0e']]);
addLegend(941.5, [['XS Cov+Scaling', '#1f77b4'], ['XS Scaling', '#ff7f0e']]);
</script>
</body>
</html>
